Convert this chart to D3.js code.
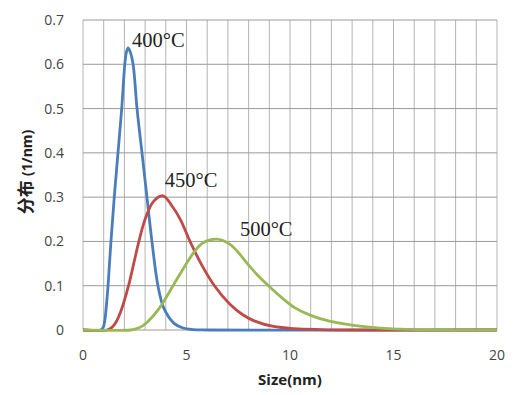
<!DOCTYPE html>
<html lang="en">
<head>
<meta charset="UTF-8">
<title>Size distribution</title>
<script src="https://d3js.org/d3.v7.min.js"></script>
<style>
    body { margin: 0; background: #fff; }
    .tick-label { font-family: "Open Sans", "DejaVu Sans", sans-serif; font-size: 14px; fill: #444; }
    .series-label { font-family: "Liberation Serif", serif; font-size: 20.5px; fill: #222; }
    .axis-title { font-family: "Open Sans", "Noto Sans CJK SC", sans-serif; font-weight: bold; fill: #222; }
</style>
</head>
<body>
<svg id="chart" width="517" height="395"></svg>
<script>
// values
const series400 = [[0,0],[0.85,0],[0.97,0.005],[1.05,0.02],[1.12,0.05],[1.21,0.1],[1.35,0.2],[1.51,0.3],[1.69,0.4],[1.87,0.5],[2.02,0.6],[2.1,0.628],[2.18,0.637],[2.28,0.628],[2.42,0.6],[2.61,0.5],[2.85,0.4],[3.09,0.3],[3.33,0.2],[3.62,0.1],[3.9,0.05],[4.4,0.015],[4.8,0.005],[5.3,0.001],[6,0],[20,0]];
const series450 = [[0,0],[1.15,0],[1.4,0.006],[1.6,0.018],[1.85,0.045],[2.2,0.1],[2.45,0.15],[2.7,0.2],[3.0,0.25],[3.4,0.29],[3.87,0.303],[4.3,0.28],[4.7,0.25],[5.17,0.2],[5.7,0.15],[6.35,0.1],[7.1,0.058],[7.7,0.035],[8.3,0.02],[9.2,0.008],[10.2,0.003],[11.5,0.001],[13,0],[20,0]];
const series500 = [[0,0],[2.3,0],[2.6,0.003],[2.9,0.01],[3.15,0.02],[3.7,0.05],[4.35,0.1],[5.0,0.15],[5.4,0.178],[5.8,0.197],[6.47,0.205],[7.05,0.195],[7.45,0.178],[7.9,0.152],[8.45,0.123],[9.0,0.098],[9.6,0.073],[10.24,0.05],[11.0,0.033],[11.9,0.02],[13.7,0.007],[15.3,0.002],[17,0],[20,0]];
const seriesNames = ["400°C", "450°C", "500°C"];
const labelPos = [[2.37, 0.638], [3.95, 0.323], [7.58, 0.213]];
const xTicks = [0, 5, 10, 15, 20];
const yTicks = [0, 0.1, 0.2, 0.3, 0.4, 0.5, 0.6, 0.7];

const colors = ["#4a7ebb", "#be4b48", "#98b954"];
const svg = d3.select("#chart");
const margin = { left: 83, right: 20, top: 20, bottom: 65 };
const W = 517, H = 395;

const x = d3.scaleLinear().domain([0, 20]).range([margin.left, W - margin.right]);
const y = d3.scaleLinear().domain([0, 0.7]).range([H - margin.bottom, margin.top]);

// grid
svg.append("g").selectAll("line").data(d3.range(0, 21, 1)).join("line")
    .attr("x1", d => x(d)).attr("x2", d => x(d))
    .attr("y1", y(0)).attr("y2", y(0.7))
    .attr("stroke", "#b4b4b4").attr("stroke-width", 1);
svg.append("g").selectAll("line").data(yTicks).join("line")
    .attr("x1", x(0)).attr("x2", x(20))
    .attr("y1", d => y(d)).attr("y2", d => y(d))
    .attr("stroke", "#9a9a9a").attr("stroke-width", 1);

// tick labels
svg.append("g").selectAll("text").data(yTicks).join("text")
    .attr("class", "tick-label")
    .attr("x", x(0) - 19).attr("y", d => y(d) + 5)
    .attr("text-anchor", "end")
    .text(d => d === 0 ? "0" : d.toFixed(1));
svg.append("g").selectAll("text").data(xTicks).join("text")
    .attr("class", "tick-label")
    .attr("x", d => x(d)).attr("y", y(0) + 30)
    .attr("text-anchor", "middle")
    .text(d => d);

// curves
const line = d3.line().x(d => x(d[0])).y(d => y(d[1])).curve(d3.curveCatmullRom.alpha(0.5));
[series400, series450, series500].forEach((s, i) => {
    svg.append("path").datum(s)
        .attr("d", line)
        .attr("fill", "none")
        .attr("stroke", colors[i])
        .attr("stroke-width", 2.8);
});

// series labels
svg.append("g").selectAll("text").data(seriesNames).join("text")
    .attr("class", "series-label")
    .attr("x", (d, i) => x(labelPos[i][0]))
    .attr("y", (d, i) => y(labelPos[i][1]))
    .text(d => d);

// axis titles
svg.append("text").attr("class", "axis-title")
    .attr("x", 290).attr("y", 385)
    .attr("text-anchor", "middle").attr("font-size", 15)
    .text("Size(nm)");

const yt = svg.append("text").attr("class", "axis-title")
    .attr("transform", "translate(32,172) rotate(-90)")
    .attr("text-anchor", "middle");
yt.append("tspan").attr("font-size", 17).text("分布 ");
yt.append("tspan").attr("font-size", 14).text(" (1/nm)");
</script>
</body>
</html>
